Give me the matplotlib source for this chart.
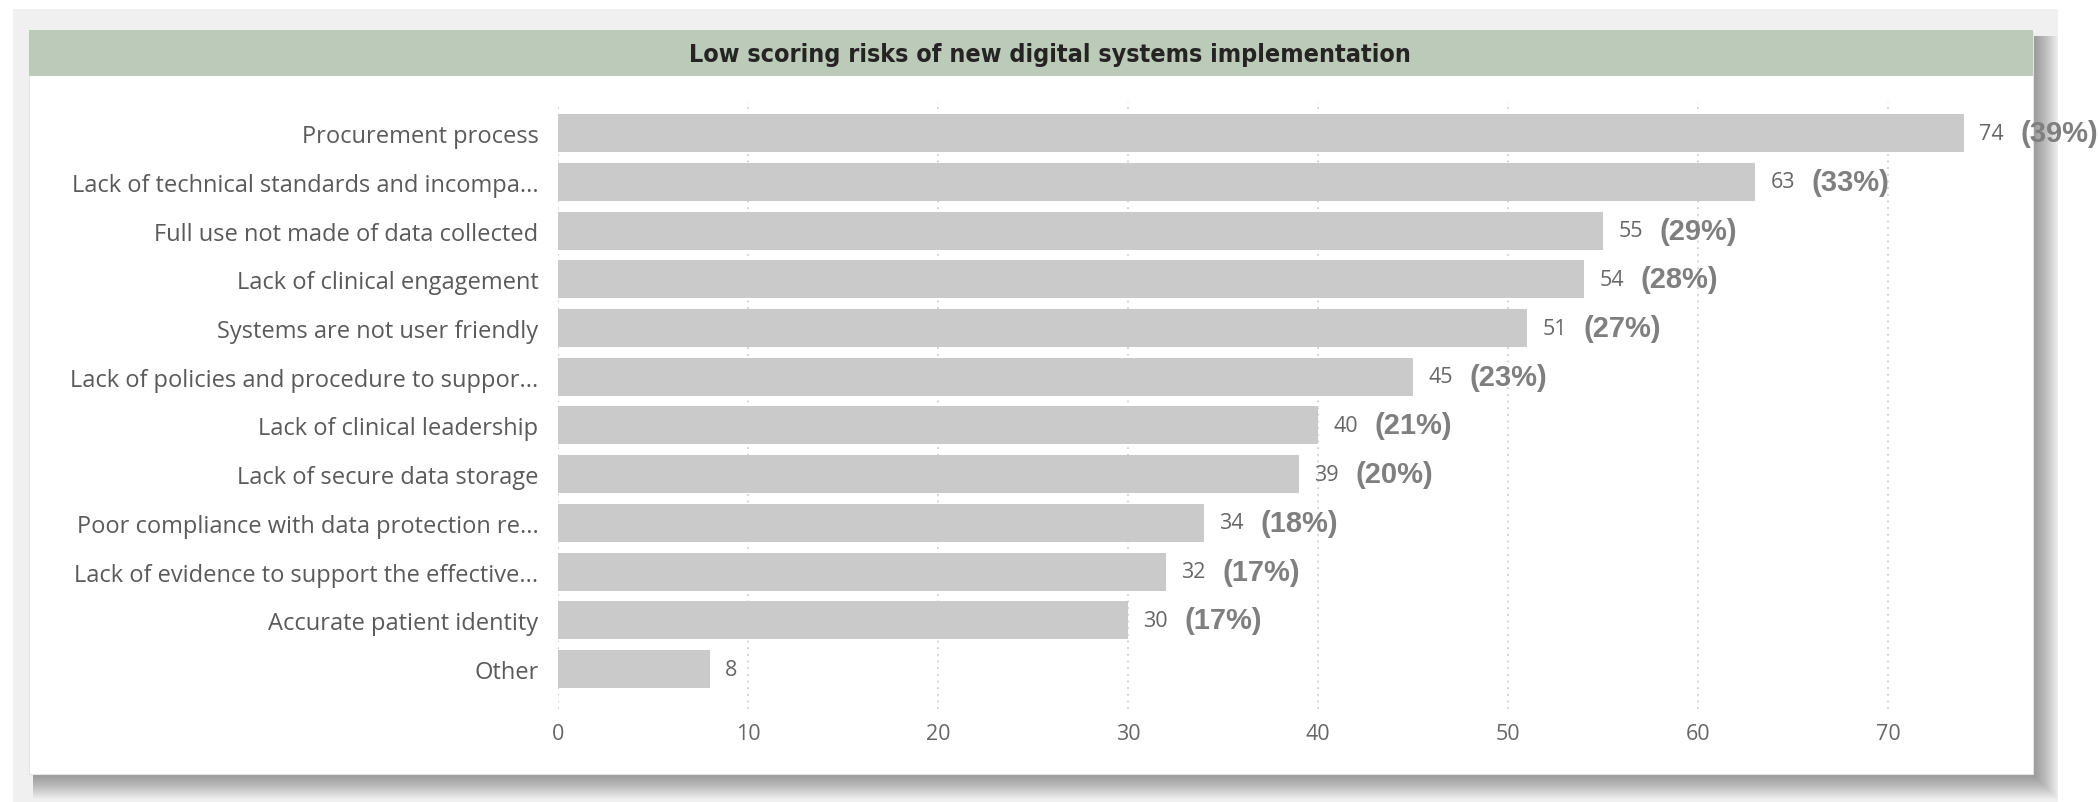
import matplotlib
matplotlib.use("Agg")
import matplotlib.pyplot as plt
from matplotlib import font_manager
from matplotlib.patches import Rectangle

# data
categories = ["Procurement process",
              "Lack of technical standards and incompa...",
              "Full use not made of data collected",
              "Lack of clinical engagement",
              "Systems are not user friendly",
              "Lack of policies and procedure to suppor...",
              "Lack of clinical leadership",
              "Lack of secure data storage",
              "Poor compliance with data protection re...",
              "Lack of evidence to support the effective...",
              "Accurate patient identity",
              "Other"]
counts = [74, 63, 55, 54, 51, 45, 40, 39, 34, 32, 30, 8]
percents = ["(39%)", "(33%)", "(29%)", "(28%)", "(27%)", "(23%)",
            "(21%)", "(20%)", "(18%)", "(17%)", "(17%)", ""]
ticks = [0, 10, 20, 30, 40, 50, 60, 70]
title = "Low scoring risks of new digital systems implementation"

names = {f.name for f in font_manager.fontManager.ttflist}
label_font = "Open Sans" if "Open Sans" in names else "DejaVu Sans"

W, H = 2098, 803
fig = plt.figure(figsize=(W / 100, H / 100), dpi=100)
fig.patch.set_facecolor("white")


def px_rect(x0, y0, x1, y1, **kw):
    # rectangle in pixel coords (y down) drawn on the figure
    r = Rectangle((x0 / W, 1 - y1 / H), (x1 - x0) / W, (y1 - y0) / H,
                  transform=fig.transFigure, zorder=-10, **kw)
    fig.patches.append(r)


# page background, card shadow, card, title band
px_rect(13, 10, 2058, 803, facecolor="#f0f0f0", edgecolor="none")
for d in range(1, 26):
    px_rect(29 + 4, 33 + 4, 2033 + d, 775 + d, facecolor="black",
            edgecolor="none", alpha=0.015)
px_rect(29, 33, 2033, 775, facecolor="white", edgecolor="#e4e4e4", linewidth=0.8)
px_rect(29, 31, 2033, 77, facecolor="#bccbb9", edgecolor="none")
fig.text(1050 / W, 1 - 55 / H, title, ha="center", va="center",
         fontsize=18, fontweight="bold", color="#252423", family="DejaVu Sans",
         fontstretch="condensed")

ax = fig.add_axes([558 / W, 1 - 710 / H, (77 * 19) / W, 607 / H])
ax.set_zorder(5)
ax.set_facecolor("none")
y = list(range(len(categories)))
ax.barh(y, counts, height=0.78, color="#cacaca", zorder=2)
ax.set_xlim(0, 77)
ax.set_ylim(11.82, -0.64)
for t in ticks:
    ax.axvline(t, color="#c8c8c8", linestyle=(0, (1, 3)), linewidth=1.2, zorder=1)
ax.set_xticks(ticks)
ax.set_yticks(y)
ax.set_yticklabels(categories, family=label_font, fontsize=17, color="#5a5a5a")
ax.set_xticklabels([str(t) for t in ticks], family=label_font, fontsize=15.5, color="#666666")
ax.tick_params(length=0, axis="y", pad=14)
ax.tick_params(length=0, axis="x", pad=10)
for s in ax.spines.values():
    s.set_visible(False)

for i, (c, p) in enumerate(zip(counts, percents)):
    ax.annotate(str(c), (c, i), xytext=(11, 0), textcoords="offset points",
                ha="left", va="center", fontsize=15.5, color="#666666",
                family=label_font, annotation_clip=False)
    if p:
        ax.annotate(p, (c, i), xytext=(41, 0), textcoords="offset points",
                    ha="left", va="center", fontsize=21, fontweight="bold",
                    color="#7f7f7f", family="Liberation Sans",
                    annotation_clip=False)

fig.savefig("out.png", dpi=100)
